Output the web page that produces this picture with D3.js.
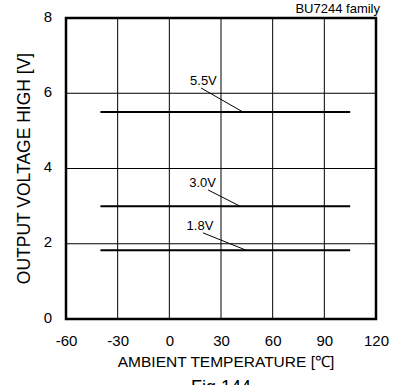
<!DOCTYPE html>
<html><head><meta charset="utf-8">
<script src="https://cdn.jsdelivr.net/npm/d3@7"></script>
<style>body{margin:0;background:#fff}svg{display:block}text{font-family:"Liberation Sans",Arial,sans-serif;fill:#000}</style>
</head><body><svg id="c" width="401" height="385"></svg>
<script>
const xTicks = [-60, -30, 0, 30, 60, 90, 120];
const yTicks = [0, 2, 4, 6, 8];
const seriesNames = ["5.5V", "3.0V", "1.8V"];
const seriesTemps = [-40, 105];
const seriesValues = [[5.5, 5.5], [3.0, 3.0], [1.83, 1.83]];
// label anchor (temp, value), leader start and end (temp, value)
const labelPos = [[19.8, 6.22], [19.3, 3.51], [17.8, 2.37]];
const leaderStart = [[18.4, 6.14], [22.5, 3.43], [19.5, 2.29]];
const leaderEnd = [[42.8, 5.5], [41.0, 3.0], [44.5, 1.83]];

const svg = d3.select("#c");
const L = 66, R = 376, T = 18, B = 319;
const x = d3.scaleLinear().domain([-60, 120]).range([L, R]);
const y = d3.scaleLinear().domain([0, 8]).range([B, T]);
const FONT = "Liberation Sans, Arial, sans-serif";

// grid
svg.append("g").selectAll("line").data(xTicks.slice(1, -1)).join("line")
  .attr("x1", d => x(d)).attr("x2", d => x(d)).attr("y1", T).attr("y2", B)
  .attr("stroke", "#000").attr("stroke-width", 1);
svg.append("g").selectAll("line").data(yTicks.slice(1, -1)).join("line")
  .attr("y1", d => y(d)).attr("y2", d => y(d)).attr("x1", L).attr("x2", R)
  .attr("stroke", "#000").attr("stroke-width", 1);

// axes tick labels
const xa = svg.append("g").attr("transform", `translate(0,${B})`)
  .call(d3.axisBottom(x).tickValues(xTicks).tickFormat(d => String(d)).tickSize(0).tickPadding(16));
xa.select(".domain").remove();
xa.selectAll("text").attr("font-size", 15).attr("font-family", FONT);
const ya = svg.append("g").attr("transform", `translate(${L},0)`)
  .call(d3.axisLeft(y).tickValues(yTicks).tickFormat(d => String(d)).tickSize(0).tickPadding(14));
ya.select(".domain").remove();
ya.selectAll("text").attr("font-size", 15).attr("font-family", FONT).attr("dy", "0.2em");

// frame
svg.append("rect").attr("x", L).attr("y", T).attr("width", R - L).attr("height", B - T)
  .attr("fill", "none").attr("stroke", "#000").attr("stroke-width", 2.5);

// series lines
const line = d3.line().x(d => x(d[0])).y(d => y(d[1]));
seriesValues.forEach((vals, i) => {
  svg.append("path").datum(seriesTemps.map((t, j) => [t, vals[j]]))
    .attr("d", line).attr("fill", "none").attr("stroke", "#000").attr("stroke-width", 2);
  svg.append("line")
    .attr("x1", x(leaderStart[i][0])).attr("y1", y(leaderStart[i][1]))
    .attr("x2", x(leaderEnd[i][0])).attr("y2", y(leaderEnd[i][1]))
    .attr("stroke", "#000").attr("stroke-width", 1);
  svg.append("text").attr("x", x(labelPos[i][0])).attr("y", y(labelPos[i][1]))
    .attr("text-anchor", "middle").attr("font-size", 13).text(seriesNames[i]);
});

// titles
svg.append("text").attr("x", 226).attr("y", 367).attr("text-anchor", "middle")
  .attr("font-size", 15.5).text("AMBIENT TEMPERATURE [℃]");
svg.append("text").attr("transform", `translate(30,${(T + B) / 2}) rotate(-90)`)
  .attr("text-anchor", "middle").attr("font-size", 17.5).text("OUTPUT VOLTAGE HIGH [V]");
svg.append("text").attr("x", 380).attr("y", 13).attr("text-anchor", "end")
  .attr("font-size", 13).text("BU7244 family");
svg.append("text").attr("x", 221).attr("y", 393).attr("text-anchor", "middle")
  .attr("font-size", 18).text("Fig.144");
</script></body></html>
